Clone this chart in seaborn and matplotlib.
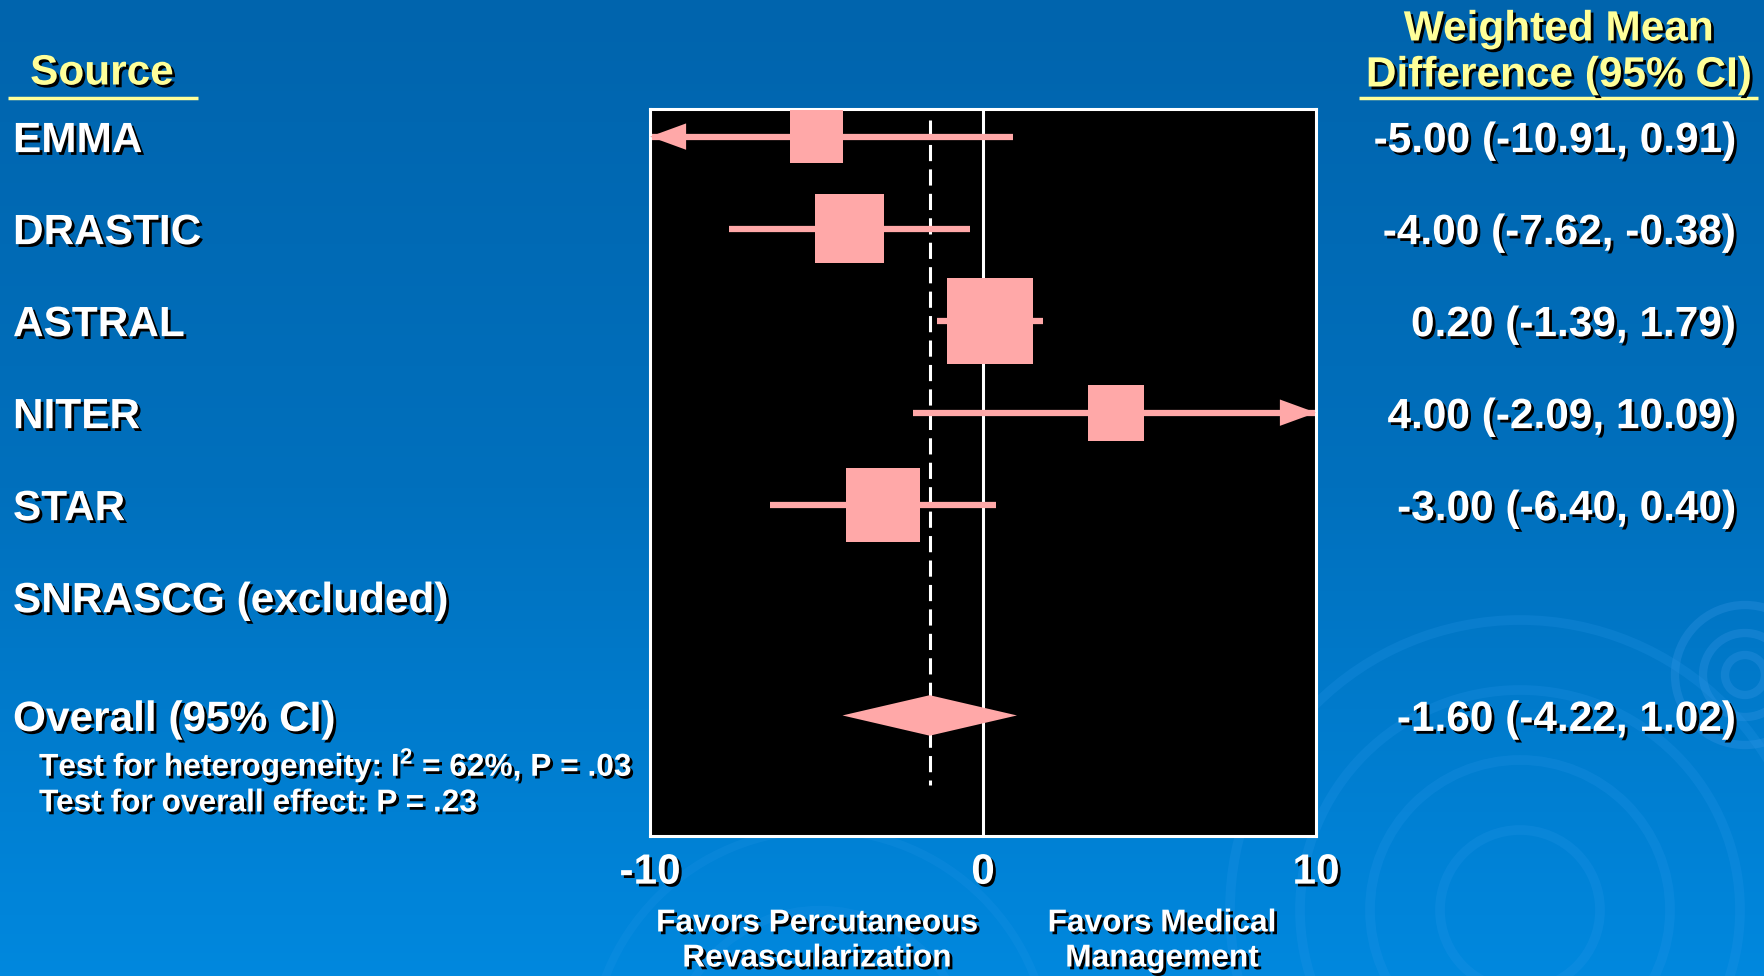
import numpy as np
import pandas as pd
import seaborn as sns
import matplotlib.pyplot as plt
import matplotlib.patheffects as pe
import matplotlib.transforms as mtrans
from matplotlib import font_manager as fm
from matplotlib.colors import LinearSegmentedColormap
from matplotlib.patches import Circle

# data
studies = ["EMMA", "DRASTIC", "ASTRAL", "NITER", "STAR", "SNRASCG (excluded)"]
wmd = [-5.00, -4.00, 0.20, 4.00, -3.00, np.nan]
ci_low = [-10.91, -7.62, -1.39, -2.09, -6.40, np.nan]
ci_high = [0.91, -0.38, 1.79, 10.09, 0.40, np.nan]
weight_box = [53, 69, 86, 56, 74, np.nan]   # square side (px) ~ study weight
overall_label = "Overall (95% CI)"
overall_wmd = -1.60
overall_low = -4.22
overall_high = 1.02
het_text = "Test for heterogeneity: I$^\\mathregular{2}$ = 62%, P = .03"
effect_text = "Test for overall effect: P = .23"
xticks = [-10, 0, 10]
favors_left = "Favors Percutaneous\nRevascularization"
favors_right = "Favors Medical\nManagement"

PINK = "#ffa8a8"
YELLOW = "#ffff99"
LIM = 10

sns.set_theme(style="white")
plt.rcParams["font.family"] = ["Liberation Sans", "DejaVu Sans"]
plt.rcParams["font.weight"] = "bold"

names = {f.name for f in fm.fontManager.ttflist}
if "Liberation Sans Narrow" in names:
    narrow, small_size = "Liberation Sans Narrow", 27
else:
    narrow, small_size = "Liberation Sans", 22.8

shadow = [pe.SimplePatchShadow(offset=(2, -2), shadow_rgbFace="black", alpha=1.0), pe.Normal()]

fig = plt.figure(figsize=(17.65, 9.76), dpi=100)

# slide background
bg = fig.add_axes([0, 0, 1, 1], zorder=-10)
grad = np.linspace(0, 1, 256)[:, None]
cmap = LinearSegmentedColormap.from_list("bg", ["#0064ad", "#0070bd", "#0088de"])
bg.imshow(grad, aspect="auto", cmap=cmap, extent=[0, 1765, 976, 0])
for r in [20, 42, 70]:
    bg.add_patch(Circle((1745, 675), r, fill=False, ec="#3a98e6", lw=6, alpha=0.3))
for r in [80, 150, 220, 290]:
    bg.add_patch(Circle((1520, 910), r, fill=False, ec="#2a98ea", lw=7, alpha=0.22))
for r in [150, 230]:
    bg.add_patch(Circle((820, 1060), r, fill=False, ec="#2a98ea", lw=6, alpha=0.18))
bg.set_xlim(0, 1765)
bg.set_ylim(976, 0)
bg.axis("off")

ax = fig.add_axes([650 / 1765, 1 - 836 / 976, 666 / 1765, 727 / 976])
ax.set_facecolor("black")
for s in ax.spines.values():
    s.set_color("white")
    s.set_linewidth(2.2)

df = pd.DataFrame({"study": studies, "wmd": wmd, "lo": ci_low, "hi": ci_high,
                   "box": weight_box})
df["row"] = np.arange(len(df), dtype=float)
overall_row = 6.29
plot_df = df.dropna()

# reference lines
ax.axvline(0, color="white", lw=2.2, zorder=1)
ax.vlines(overall_wmd, -0.18, 7.05, color="white", lw=2.2, linestyles=(0, (5.3, 2.7)), zorder=1)

# confidence intervals, clipped with arrows
lo_c = plot_df["lo"].clip(-LIM, LIM)
hi_c = plot_df["hi"].clip(-LIM, LIM)
ax.hlines(plot_df["row"], lo_c, hi_c, color=PINK, lw=4.5, zorder=2)
for _, r in plot_df.iterrows():
    for end, edge in [(r["lo"], -LIM), (r["hi"], LIM)]:
        if abs(end) > LIM:
            ax.annotate("", xy=(edge, r["row"]), xytext=(edge - np.sign(edge) * 0.5, r["row"]),
                        arrowprops=dict(arrowstyle="-|>,head_length=2.6,head_width=0.95",
                                        mutation_scale=10, color=PINK, lw=0,
                                        shrinkA=0, shrinkB=0),
                        annotation_clip=False, zorder=3)

# weighted squares
sns.scatterplot(data=plot_df, x="wmd", y="row", marker="s", color=PINK,
                s=(plot_df["box"] * 0.72) ** 2, linewidth=0, ax=ax, zorder=3, legend=False)

# overall diamond
dh = 0.22
ax.fill([overall_low, overall_wmd, overall_high, overall_wmd],
        [overall_row, overall_row - dh, overall_row, overall_row + dh],
        color=PINK, lw=0, zorder=3)

ax.set_xlim(-LIM, LIM)
ax.set_ylim(7.6, -0.30)
ax.set_yticks([])
ax.set_xticks(xticks)
ax.set_xticklabels([str(t) for t in xticks])
ax.tick_params(axis="x", length=0, pad=12, labelsize=30.5, labelcolor="white")
for lab in ax.get_xticklabels():
    lab.set_fontweight("bold")
    lab.set_path_effects(shadow)
ax.set_xlabel("")
ax.set_ylabel("")

trans = mtrans.blended_transform_factory(fig.transFigure, ax.transData)
big = dict(fontsize=30.5, fontweight="bold", color="white", path_effects=shadow)

for _, r in df.iterrows():
    fig.text(13 / 1765, r["row"], r["study"], ha="left", va="center_baseline",
             transform=trans, **big)
    if not np.isnan(r["wmd"]):
        fig.text(1736 / 1765, r["row"], f"{r['wmd']:.2f} ({r['lo']:.2f}, {r['hi']:.2f})",
                 ha="right", va="center_baseline", transform=trans, **big)

fig.text(13 / 1765, overall_row, overall_label, ha="left", va="center_baseline",
         transform=trans, **big)
fig.text(1736 / 1765, overall_row,
         f"{overall_wmd:.2f} ({overall_low:.2f}, {overall_high:.2f})",
         ha="right", va="center_baseline", transform=trans, **big)

small = dict(fontsize=small_size, fontweight="bold", color="white", path_effects=shadow,
             family=[narrow, "DejaVu Sans"])
fig.text(39 / 1765, 1 - 761 / 976, het_text, ha="left", va="center_baseline", **small)
fig.text(39 / 1765, 1 - 800 / 976, effect_text, ha="left", va="center_baseline", **small)

fig.text(817 / 1765, 1 - 941 / 976, favors_left, ha="center", va="center",
         linespacing=1.22, **small)
fig.text(1162 / 1765, 1 - 941 / 976, favors_right, ha="center", va="center",
         linespacing=1.22, **small)

# column headers
head = dict(fontsize=30.5, fontweight="bold", color=YELLOW, path_effects=shadow)
fig.text(102 / 1765, 1 - 69 / 976, "Source", ha="center", va="center_baseline", **head)
fig.text(1559 / 1765, 1 - 25 / 976, "Weighted Mean", ha="center", va="center_baseline", **head)
fig.text(1559 / 1765, 1 - 71 / 976, "Difference (95% CI)", ha="center", va="center_baseline", **head)
bg.plot([8, 198], [98, 98], color=YELLOW, lw=2.5, solid_capstyle="butt")
bg.plot([1359, 1758], [98, 98], color=YELLOW, lw=2.5, solid_capstyle="butt")

fig.savefig("out.png", dpi=100)
